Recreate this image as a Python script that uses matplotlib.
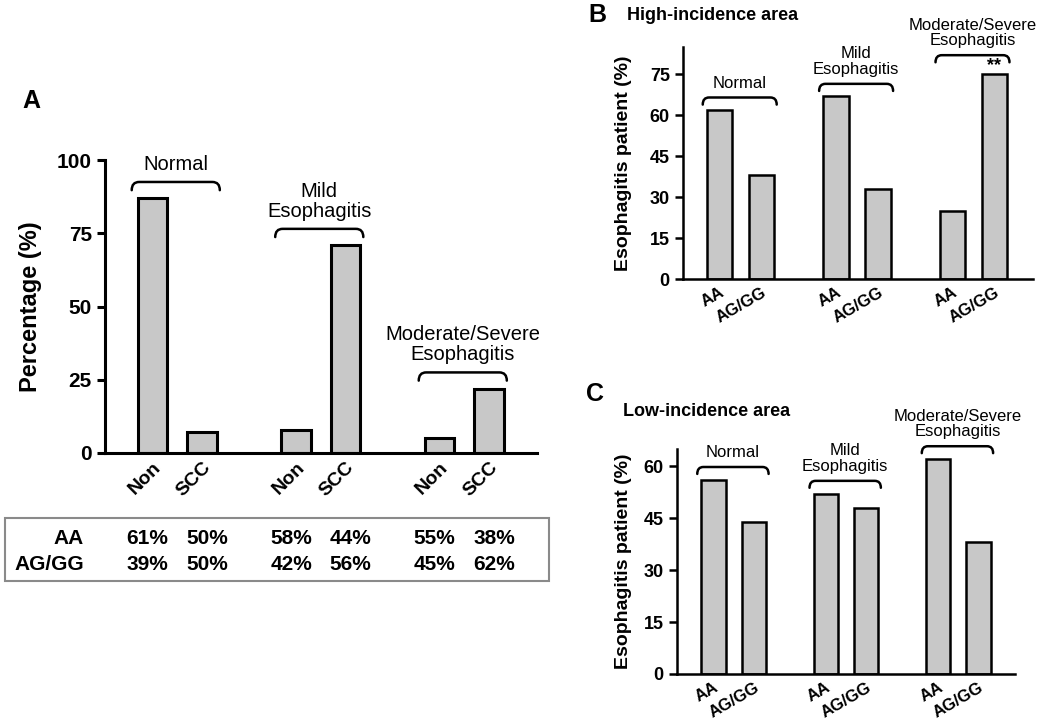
import matplotlib
matplotlib.use('Agg')
import matplotlib.pyplot as plt
from matplotlib.path import Path
from matplotlib.patches import PathPatch, Rectangle
import numpy as np

plt.rcParams['font.family'] = ['Liberation Sans', 'DejaVu Sans']

# data
groups = ['Normal', 'Mild\nEsophagitis', 'Moderate/Severe\nEsophagitis']
a_cats = ['Non', 'SCC']
a_vals = [[87, 7], [8, 71], [5, 22]]
row_names = ['AA', 'AG/GG']
aa_pct = [61, 50, 58, 44, 55, 38]
ag_pct = [39, 50, 42, 56, 45, 62]
b_cats = ['AA', 'AG/GG']
b_vals = [[62, 38], [67, 33], [25, 75]]
c_vals = [[56, 44], [52, 48], [62, 38]]

BAR = '#c8c8c8'


def brace(ax, x0, x1, y, h, w):
    verts = [(x0, y - h), (x0, y), (x0 + w, y), (x1 - w, y), (x1, y), (x1, y - h)]
    codes = [Path.MOVETO, Path.CURVE3, Path.CURVE3, Path.LINETO, Path.CURVE3, Path.CURVE3]
    ax.add_patch(PathPatch(Path(verts, codes), fill=False, lw=1.8, ec='black',
                           clip_on=False, capstyle='round'))


def panel(ax, vals, cats, step, ylim, yticks, fs_tick, rot, lw):
    xs = []
    for g, pair in enumerate(vals):
        for k, v in enumerate(pair):
            x = g * step + k
            xs.append(x)
            ax.bar(x, v, width=0.6, color=BAR, edgecolor='black', linewidth=lw)
    ax.set_ylim(*ylim)
    ax.set_yticks(yticks)
    ax.set_xticks(xs)
    ax.set_xticklabels(cats * len(vals), rotation=rot, ha='right',
                       rotation_mode='anchor', fontweight='bold', fontsize=fs_tick)
    ax.tick_params(axis='x', length=0, pad=4)
    ax.tick_params(axis='y', width=lw, length=6, direction='out')
    for lab in ax.get_yticklabels():
        lab.set_fontweight('bold')
        lab.set_fontsize(fs_tick + 1)
    for s in ['top', 'right']:
        ax.spines[s].set_visible(False)
    for s in ['left', 'bottom']:
        ax.spines[s].set_linewidth(lw)
    return xs


fig = plt.figure(figsize=(10.5, 7.28), dpi=100)

# ---- panel A
axA = fig.add_axes([105 / 1050, 1 - 453 / 728, 432 / 1050, 293 / 728])
xsA = panel(axA, a_vals, a_cats, 2.9, (0, 100), [0, 25, 50, 75, 100], 14, 45, 2.2)
axA.set_xlim(-0.96, 7.77)
axA.set_ylabel('Percentage (%)', fontsize=17, fontweight='bold')
axA.yaxis.set_label_coords(-0.146, 0.5)
for g, name in enumerate(groups):
    x0 = g * 2.9
    y = max(a_vals[g]) + 5.5
    brace(axA, x0 - 0.42, x0 + 1.36, y, 2.8, 0.15)
    axA.annotate(name, (x0 + 0.47, y), xytext=(0, 6), textcoords='offset points',
                 ha='center', va='bottom', fontsize=14.5, linespacing=1.05,
                 annotation_clip=False)
fig.text(22 / 1050, 1 - 101 / 728, 'A', fontsize=18, fontweight='bold', va='center')

# genotype table under panel A
fig.patches.append(Rectangle((5 / 1050, 1 - 581 / 728), 544 / 1050, 63 / 728,
                             transform=fig.transFigure, fill=False,
                             ec='#8a8a8a', lw=1.5))
tr = matplotlib.transforms.blended_transform_factory(axA.transData, fig.transFigure)
for r, (name, pcts) in enumerate(zip(row_names, [aa_pct, ag_pct])):
    yy = 1 - (538 + 27 * r) / 728
    fig.text(84 / 1050, yy, name, ha='right', va='center', fontsize=15, fontweight='bold')
    for i, p in enumerate(pcts):
        dx = -0.1 if i % 2 == 0 else 0.1
        axA.text(xsA[i] + dx, yy, f'{p}%', transform=tr, ha='center', va='center',
                 fontsize=15, fontweight='bold')

# ---- panel B
axB = fig.add_axes([683 / 1050, 1 - 279 / 728, 350 / 1050, 232 / 728])
xsB = panel(axB, b_vals, b_cats, 2.77, (0, 85), [0, 15, 30, 45, 60, 75], 12, 30, 1.8)
axB.set_xlim(-0.87, 7.46)
axB.set_ylabel('Esophagitis patient (%)', fontsize=14, fontweight='bold')
axB.yaxis.set_label_coords(-0.146, 0.5)
for g, name in enumerate(groups):
    x0 = g * 2.77
    top = max(b_vals[g])
    y = top + (7 if g == 2 else 4.5)
    brace(axB, x0 - 0.4, x0 + 1.36, y, 2.6, 0.15)
    axB.annotate(name, (x0 + 0.48, y), xytext=(0, 5), textcoords='offset points',
                 ha='center', va='bottom', fontsize=12, linespacing=1.05,
                 annotation_clip=False)
axB.text(xsB[5], b_vals[2][1], '**', ha='center', va='bottom', fontsize=13,
         fontweight='bold')
fig.text(588 / 1050, 1 - 15 / 728, 'B', fontsize=18, fontweight='bold', va='center')
fig.text(627 / 1050, 1 - 15 / 728, 'High-incidence area', fontsize=13,
         fontweight='bold', va='center')

# ---- panel C
axC = fig.add_axes([677 / 1050, 1 - 674 / 728, 338 / 1050, 225 / 728])
xsC = panel(axC, c_vals, b_cats, 2.77, (0, 65), [0, 15, 30, 45, 60], 12, 30, 1.8)
axC.set_xlim(-0.9, 7.44)
axC.set_ylabel('Esophagitis patient (%)', fontsize=14, fontweight='bold')
axC.yaxis.set_label_coords(-0.133, 0.5)
for g, name in enumerate(groups):
    x0 = g * 2.77
    y = max(c_vals[g]) + 3.8
    brace(axC, x0 - 0.4, x0 + 1.36, y, 2.0, 0.15)
    axC.annotate(name, (x0 + 0.48, y), xytext=(0, 5), textcoords='offset points',
                 ha='center', va='bottom', fontsize=12, linespacing=1.05,
                 annotation_clip=False)
fig.text(586 / 1050, 1 - 394 / 728, 'C', fontsize=18, fontweight='bold', va='center')
fig.text(623 / 1050, 1 - 412 / 728, 'Low-incidence area', fontsize=13,
         fontweight='bold', va='center')

fig.savefig('out.png', dpi=100, facecolor='white')
